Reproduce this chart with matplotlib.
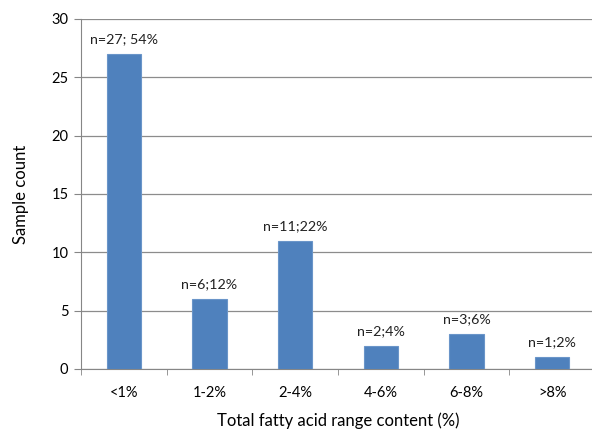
import matplotlib.pyplot as plt
import numpy as np

# sample counts per total fatty acid range
categories = ['<1%', '1-2%', '2-4%', '4-6%', '6-8%', '>8%']
counts = [27, 6, 11, 2, 3, 1]
bar_labels = ['n=27; 54%', 'n=6;12%', 'n=11;22%', 'n=2;4%', 'n=3;6%', 'n=1;2%']

plt.rcParams['font.family'] = ['Lato', 'DejaVu Sans']

fig = plt.figure(figsize=(5.92, 4.32), dpi=100)
ax = fig.add_axes([81 / 592, 1 - 369 / 432, (595 - 81) / 592, (369 - 19) / 432])

x = np.arange(len(categories))
ax.bar(x, counts, width=0.4, color='#4F81BD', edgecolor='#6A95C9', linewidth=0.8, zorder=3)

for xi, c, lab in zip(x, counts, bar_labels):
    ax.annotate(lab, (xi, c), xytext=(0, 9), textcoords='offset pixels',
                ha='center', va='bottom', fontsize=10.3, color='#222222')

ax.set_xlim(-0.5, len(categories) - 0.5)
ax.set_ylim(0, 30)
ax.set_yticks(range(0, 31, 5))
ax.set_xticks(x)
ax.set_xticklabels(categories, fontsize=10.5)
ax.set_xticks(np.arange(-0.5, len(categories), 1), minor=True)
ax.tick_params(axis='x', which='major', length=0, pad=12)
ax.tick_params(axis='x', which='minor', length=4, color='#868686', direction='out')
ax.tick_params(axis='y', length=5, color='#868686', labelsize=10.5, pad=4)

ax.grid(axis='y', color='#8C8C8C', linewidth=0.9, zorder=0)
for side in ['top', 'right']:
    ax.spines[side].set_visible(False)
for side in ['left', 'bottom']:
    ax.spines[side].set_color('#868686')

ax.set_xlabel('Total fatty acid range content (%)', fontsize=12, labelpad=9)
ax.set_ylabel('Sample count', fontsize=12, labelpad=16)

fig.savefig('out.png', dpi=100)
